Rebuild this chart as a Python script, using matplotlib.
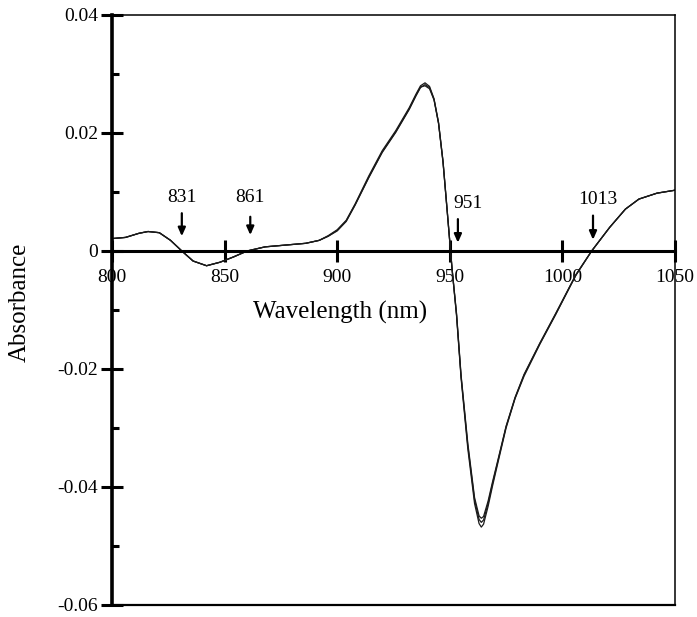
import matplotlib
matplotlib.use("Agg")
import matplotlib.pyplot as plt
from matplotlib.ticker import MultipleLocator

plt.rcParams['font.family'] = ['Liberation Serif', 'DejaVu Serif']

# wavelength grid (nm) shared by the overlaid spectra
wavelength = [800, 806, 812, 816, 821, 826, 831, 836, 842, 848, 854, 860, 868, 877,
              886, 892, 896, 900, 904, 908, 914, 920, 926, 932, 935, 937, 939, 941,
              943, 945, 947, 949, 951, 953, 955, 958, 961, 963, 964, 965, 967, 969,
              971, 975, 979, 983, 990, 997, 1006, 1013, 1021, 1028, 1034, 1042, 1050]

abs_1 = [0.0021, 0.0023, 0.0030, 0.0033, 0.0031, 0.0018, 0.0000, -0.0017, -0.0025,
         -0.0019, -0.0010, 0.0000, 0.0007, 0.0010, 0.0013, 0.0018, 0.0026, 0.0036,
         0.0052, 0.0080, 0.0127, 0.0170, 0.0204, 0.0243, 0.0266, 0.0280, 0.0285,
         0.0279, 0.0258, 0.0218, 0.0152, 0.0062, -0.0030, -0.0110, -0.0215, -0.0335,
         -0.0428, -0.0462, -0.0468, -0.0463, -0.0433, -0.0398, -0.0365, -0.0300,
         -0.0250, -0.0212, -0.0158, -0.0108, -0.0041, 0.0000, 0.0040, 0.0071, 0.0088,
         0.0098, 0.0103]

abs_2 = [0.0021, 0.0023, 0.0030, 0.0033, 0.0031, 0.0018, 0.0000, -0.0017, -0.0025,
         -0.0019, -0.0010, 0.0000, 0.0007, 0.0010, 0.0013, 0.0018, 0.0025, 0.0034,
         0.0050, 0.0078, 0.0124, 0.0167, 0.0201, 0.0240, 0.0263, 0.0277, 0.0282,
         0.0277, 0.0257, 0.0217, 0.0151, 0.0061, -0.0030, -0.0108, -0.0212, -0.0330,
         -0.0422, -0.0455, -0.0460, -0.0456, -0.0428, -0.0394, -0.0362, -0.0298,
         -0.0249, -0.0210, -0.0157, -0.0107, -0.0041, 0.0000, 0.0040, 0.0071, 0.0088,
         0.0098, 0.0103]

abs_3 = [0.0021, 0.0023, 0.0030, 0.0033, 0.0031, 0.0018, 0.0000, -0.0017, -0.0025,
         -0.0019, -0.0010, 0.0000, 0.0007, 0.0010, 0.0013, 0.0018, 0.0025, 0.0035,
         0.0051, 0.0079, 0.0125, 0.0168, 0.0202, 0.0241, 0.0264, 0.0278, 0.0280,
         0.0275, 0.0256, 0.0216, 0.0150, 0.0060, -0.0030, -0.0106, -0.0210, -0.0326,
         -0.0418, -0.0449, -0.0453, -0.0450, -0.0424, -0.0391, -0.0360, -0.0297,
         -0.0248, -0.0209, -0.0156, -0.0106, -0.0040, 0.0000, 0.0040, 0.0071, 0.0088,
         0.0098, 0.0103]

# marked points: label text, arrow x, label x, label y, arrow top y, arrow tip y
mark_labels = ["831", "861", "951", "1013"]
mark_arrow_x = [831, 861.4, 953.6, 1013.6]
mark_label_x = [831, 861.4, 957.9, 1015.7]
mark_label_y = [0.0090, 0.0090, 0.0081, 0.0088]
mark_top_y = [0.0064, 0.0058, 0.0054, 0.0060]
mark_tip_y = [0.0025, 0.0027, 0.0014, 0.0019]

x_ticks = [800, 850, 900, 950, 1000, 1050]
x_tick_labels = ["800", "850", "900", "950", "1000", "1050"]
y_ticks = [-0.06, -0.04, -0.02, 0, 0.02, 0.04]
y_tick_labels = ["-0.06", "-0.04", "-0.02", "0", "0.02", "0.04"]

fig = plt.figure(figsize=(6.97, 6.17), dpi=100)
ax = fig.add_axes([0.1607, 0.0195, 0.8077, 0.9562])

for spec in (abs_3, abs_2, abs_1):
    ax.plot(wavelength, spec, color='#1a1a1a', lw=0.9)

ax.set_xlim(800, 1050)
ax.set_ylim(-0.06, 0.04)

# x axis sits on the zero line, box drawn thin around
ax.spines['bottom'].set_position(('data', 0))
ax.spines['bottom'].set_linewidth(2.2)
ax.spines['left'].set_linewidth(2.6)
ax.spines['top'].set_linewidth(1.1)
ax.spines['right'].set_linewidth(1.1)
ax.plot([0, 1], [0, 0], transform=ax.transAxes, color='black', lw=1.6, clip_on=False)

ax.set_xticks(x_ticks)
ax.set_xticklabels(x_tick_labels)
ax.set_yticks(y_ticks)
ax.set_yticklabels(y_tick_labels)
ax.yaxis.set_minor_locator(MultipleLocator(0.01))

ax.tick_params(axis='x', which='major', direction='inout', length=16, width=2.2,
               labelsize=14, pad=5)
ax.tick_params(axis='y', which='major', direction='inout', length=16, width=2.2,
               labelsize=14, pad=2)
ax.tick_params(axis='y', which='minor', direction='in', length=5, width=2.2)

ax.set_xlabel("Wavelength (nm)", fontsize=18)
ax.xaxis.set_label_coords(0.405, 0.515)
ax.set_ylabel("Absorbance", fontsize=18)
ax.yaxis.set_label_coords(-0.145, 0.513)

for lab, xa, xl, yl, yt, yb in zip(mark_labels, mark_arrow_x, mark_label_x,
                                   mark_label_y, mark_top_y, mark_tip_y):
    ax.text(xl, yl, lab, fontsize=14, ha='center', va='center')
    ax.annotate('', xy=(xa, yb), xytext=(xa, yt),
                arrowprops=dict(arrowstyle='-|>,head_length=0.45,head_width=0.2',
                                color='black', lw=1.6, mutation_scale=11,
                                shrinkA=0, shrinkB=0))

fig.savefig("out.png", dpi=100)
